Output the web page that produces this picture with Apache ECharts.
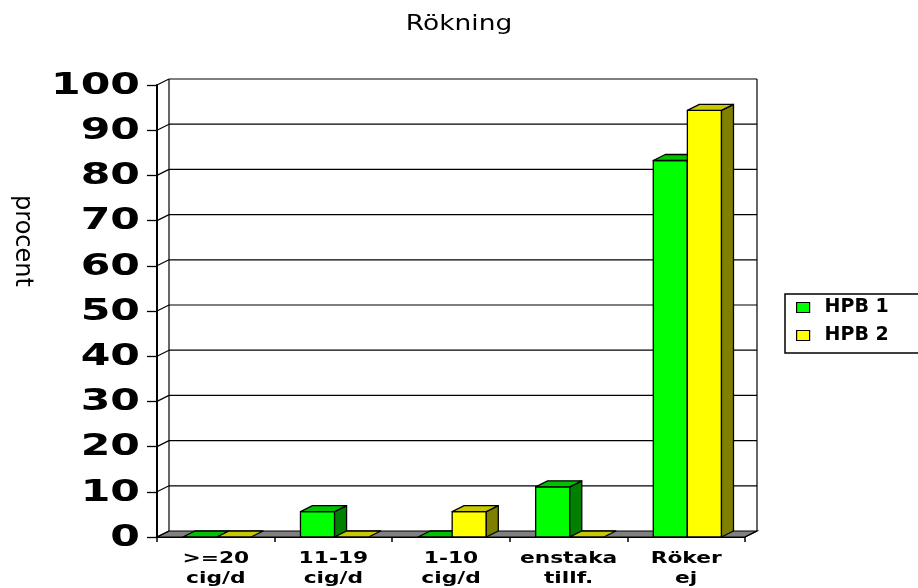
<!DOCTYPE html>
<html>
<head>
<meta charset="utf-8">
<script src="https://cdn.jsdelivr.net/npm/echarts@6/dist/echarts.min.js"></script>
<style>
  html, body { margin: 0; padding: 0; background: #ffffff; }
  #chart { width: 918px; height: 588px; }
</style>
</head>
<body>
<div id="chart"></div>
<script>
// Smoking habits, percent per group
const categories = ['>=20\ncig/d', '11-19\ncig/d', '1-10\ncig/d', 'enstaka\ntillf.', 'Röker\nej'];
const seriesNames = ['HPB 1', 'HPB 2'];
const hpb1 = [0, 5.6, 0, 11.1, 83.3];
const hpb2 = [0, 0, 5.6, 0, 94.4];
const yTicks = [0, 10, 20, 30, 40, 50, 60, 70, 80, 90, 100];

// pseudo-3D depth offset (pixels)
const DX = 12, DY = -6;

const faceColors = [
  { front: '#00ff00', top: '#00c000', side: '#008000' },
  { front: '#ffff00', top: '#c8c800', side: '#808000' }
];

const chart = echarts.init(document.getElementById('chart'));

// back wall, side wall, floor, gridlines and value labels
function renderFrame(params, api) {
  const v = api.value(0);
  const cs = params.coordSys;
  const x0 = cs.x, x1 = cs.x + cs.width;
  const y = api.coord([0, v])[1];
  const lineStyle = { stroke: '#000', lineWidth: 1.2 };
  const children = [];
  if (v === 0) {
    const yTop = api.coord([0, 100])[1];
    children.push({
      type: 'polygon',
      shape: { points: [[x0, y], [x1, y], [x1 + DX, y + DY], [x0 + DX, y + DY]] },
      style: { fill: '#808080', stroke: '#000', lineWidth: 1.2 }
    });
    children.push({ type: 'line', shape: { x1: x0 + DX, y1: yTop + DY, x2: x0 + DX, y2: y + DY }, style: lineStyle });
    children.push({ type: 'line', shape: { x1: x1 + DX, y1: yTop + DY, x2: x1 + DX, y2: y + DY }, style: lineStyle });
    children.push({ type: 'line', shape: { x1: x1, y1: y, x2: x1 + DX, y2: y + DY }, style: lineStyle });
  } else {
    children.push({ type: 'line', shape: { x1: x0 + DX, y1: y + DY, x2: x1 + DX, y2: y + DY }, style: lineStyle });
  }
  children.push({ type: 'line', shape: { x1: x0, y1: y, x2: x0 + DX, y2: y + DY }, style: lineStyle });
  children.push({
    type: 'text',
    x: x0 - 17,
    y: y + 1,
    scaleX: 1.42,
    style: {
      x: 0, y: 0,
      text: String(v),
      align: 'right',
      verticalAlign: 'middle',
      fontFamily: 'DejaVu Sans',
      fontWeight: 'bold',
      fontSize: 30,
      fill: '#000'
    }
  });
  return { type: 'group', children: children };
}

// one 3D column: front face, top face, right side face
function makeBarRenderer(k) {
  const c = faceColors[k];
  return function (params, api) {
    const i = api.value(0), v = api.value(1);
    const base = api.coord([i, 0]);
    const top = api.coord([i, v]);
    const band = api.size([1, 0])[0];
    const w = band * 0.29;
    const x = base[0] - band * 0.28 + k * w;
    const ty = top[1], by = base[1];
    const stroke = { stroke: '#000', lineWidth: 1.3, lineJoin: 'round' };
    const children = [];
    if (by - ty > 0.5) {
      children.push({
        type: 'rect',
        shape: { x: x, y: ty, width: w, height: by - ty },
        style: Object.assign({ fill: c.front }, stroke)
      });
      children.push({
        type: 'polygon',
        shape: { points: [[x + w, ty], [x + w + DX, ty + DY], [x + w + DX, by + DY], [x + w, by]] },
        style: Object.assign({ fill: c.side }, stroke)
      });
    }
    children.push({
      type: 'polygon',
      shape: { points: [[x, ty], [x + w, ty], [x + w + DX, ty + DY], [x + DX, ty + DY]] },
      style: Object.assign({ fill: c.top }, stroke)
    });
    return { type: 'group', children: children };
  };
}

// two-line category labels under the floor
function renderCategoryLabel(params, api) {
  const i = api.value(0);
  const p = api.coord([i, 0]);
  return {
    type: 'text',
    x: p[0],
    y: p[1] + 32,
    scaleX: 1.45,
    style: {
      x: 0, y: 0,
      text: categories[i],
      align: 'center',
      verticalAlign: 'middle',
      fontFamily: 'DejaVu Sans',
      fontWeight: 'bold',
      fontSize: 15,
      lineHeight: 20,
      fill: '#000'
    }
  };
}

const option = {
  backgroundColor: '#ffffff',
  animation: false,
  graphic: [
    {
      type: 'text',
      x: 459,
      y: 25,
      scaleX: 1.26,
      style: {
        x: 0, y: 0,
        text: 'Rökning',
        align: 'center',
        verticalAlign: 'middle',
        fontFamily: 'DejaVu Sans',
        fontSize: 21,
        fill: '#000'
      }
    },
    {
      type: 'text',
      x: 22,
      y: 241,
      rotation: -Math.PI / 2,
      style: {
        x: 0, y: 0,
        text: 'procent',
        align: 'center',
        verticalAlign: 'middle',
        fontFamily: 'DejaVu Sans',
        fontSize: 24,
        fill: '#000'
      }
    }
  ],
  legend: {
    data: seriesNames,
    orient: 'vertical',
    left: 785,
    top: 294,
    padding: [4, 40, 8, 11],
    itemWidth: 13,
    itemHeight: 10,
    itemGap: 9,
    icon: 'rect',
    borderColor: '#000',
    borderWidth: 1.5,
    borderRadius: 0,
    itemStyle: { borderColor: '#000', borderWidth: 1.2 },
    textStyle: {
      fontFamily: 'DejaVu Sans',
      fontWeight: 'bold',
      fontSize: 19,
      color: '#000',
      padding: [0, 0, 0, 10]
    }
  },
  grid: { left: 157, right: 173, top: 85, bottom: 51, containLabel: false },
  xAxis: {
    type: 'category',
    data: categories,
    axisLine: { lineStyle: { color: '#000', width: 2 } },
    axisTick: { show: true, length: 5, lineStyle: { color: '#000', width: 1.5 } },
    axisLabel: { show: false },
    splitLine: { show: false }
  },
  yAxis: {
    type: 'value',
    min: 0,
    max: 100,
    interval: 10,
    axisLine: { show: true, lineStyle: { color: '#000', width: 2 } },
    axisTick: { show: true, length: 10, lineStyle: { color: '#000', width: 1.3 } },
    axisLabel: { show: false },
    splitLine: { show: false }
  },
  series: [
    {
      type: 'custom',
      name: 'frame',
      silent: true,
      z: 1,
      renderItem: renderFrame,
      data: yTicks.map(function (v) { return [v]; }),
      encode: { y: 0 }
    },
    {
      type: 'custom',
      name: 'labels',
      silent: true,
      z: 1,
      renderItem: renderCategoryLabel,
      data: categories.map(function (c, i) { return [i, 0]; }),
      encode: { x: 0, y: 1 }
    },
    {
      type: 'custom',
      name: seriesNames[0],
      z: 3,
      itemStyle: { color: faceColors[0].front },
      renderItem: makeBarRenderer(0),
      data: hpb1.map(function (v, i) { return [i, v]; }),
      encode: { x: 0, y: 1 }
    },
    {
      type: 'custom',
      name: seriesNames[1],
      z: 4,
      itemStyle: { color: faceColors[1].front },
      renderItem: makeBarRenderer(1),
      data: hpb2.map(function (v, i) { return [i, v]; }),
      encode: { x: 0, y: 1 }
    }
  ]
};

chart.setOption(option);
</script>
</body>
</html>
